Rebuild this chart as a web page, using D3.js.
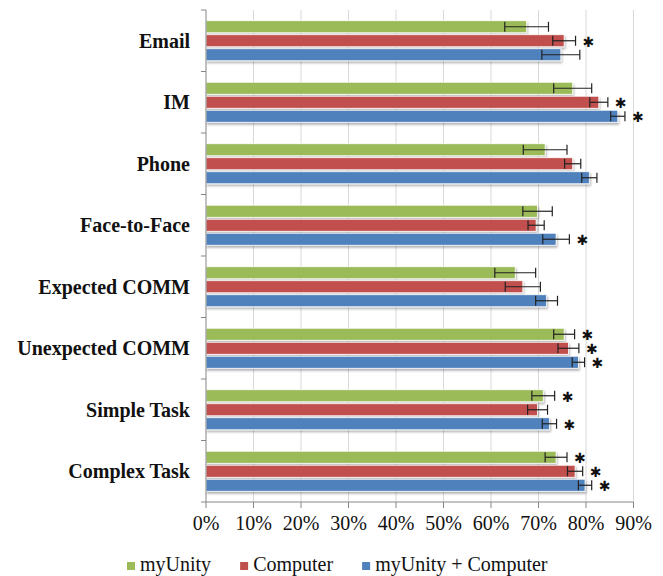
<!DOCTYPE html>
<html>
<head>
<meta charset="utf-8">
<script src="https://cdn.jsdelivr.net/npm/d3@7"></script>
<style>
  html, body { margin: 0; padding: 0; background: #fff; }
  svg { display: block; }
</style>
</head>
<body>
<div id="chart"></div>
<script>
// ---- data ----
const categories = ["Email", "IM", "Phone", "Face-to-Face", "Expected COMM", "Unexpected COMM", "Simple Task", "Complex Task"];
const seriesNames = ["myUnity", "Computer", "myUnity + Computer"];
const myUnity      = [67.5, 77.2, 71.4, 69.8, 65.1, 75.4, 71.0, 73.7];
const myUnityErr   = [4.6, 4.0, 4.6, 3.1, 4.3, 2.2, 2.4, 2.3];
const computer     = [75.4, 82.7, 77.2, 69.5, 66.7, 76.3, 69.8, 77.7];
const computerErr  = [2.4, 1.9, 1.7, 1.7, 3.7, 2.2, 2.1, 1.6];
const combined     = [74.7, 86.7, 80.7, 73.7, 71.7, 78.4, 72.3, 79.8];
const combinedErr  = [4.0, 1.5, 1.6, 2.8, 2.3, 1.3, 1.5, 1.4];
const myUnitySig   = [false, false, false, false, false, true, true, true];
const computerSig  = [true, true, false, false, false, true, false, true];
const combinedSig  = [false, true, false, true, false, true, true, true];
const xTicks = [0, 10, 20, 30, 40, 50, 60, 70, 80, 90];
const colors = ["#9bbb59", "#c0504d", "#4f81bd"];

const seriesValues = [myUnity, computer, combined];
const seriesErrs = [myUnityErr, computerErr, combinedErr];
const seriesSig = [myUnitySig, computerSig, combinedSig];

const rows = [];
categories.forEach((c, i) => {
  seriesNames.forEach((s, j) => {
    rows.push({ cat: c, series: s, si: j, value: seriesValues[j][i], err: seriesErrs[j][i], sig: seriesSig[j][i] });
  });
});

// ---- layout ----
const W = 663, H = 576;
const mLeft = 206, mRight = 633.5, mTop = 10, mBottom = 502;

const svg = d3.select("#chart").append("svg").attr("width", W).attr("height", H);

const defs = svg.append("defs");
const f = defs.append("filter").attr("id", "shadow").attr("x", "-5%").attr("y", "-30%").attr("width", "110%").attr("height", "180%");
f.append("feDropShadow").attr("dx", 1).attr("dy", 2).attr("stdDeviation", 1).attr("flood-color", "#000").attr("flood-opacity", 0.3);

const x = d3.scaleLinear().domain([0, 90]).range([mLeft, mRight]);
const y0 = d3.scaleBand().domain(categories).range([mTop, mBottom]).paddingInner(0.317).paddingOuter(0.1585);
const y1 = d3.scaleBand().domain(seriesNames).range([0, y0.bandwidth()]).paddingInner(0.14).paddingOuter(0.07);
const color = d3.scaleOrdinal().domain(seriesNames).range(colors);

// gridlines
svg.append("g").selectAll("line").data(xTicks.slice(1)).join("line")
  .attr("x1", d => x(d)).attr("x2", d => x(d))
  .attr("y1", mTop).attr("y2", mBottom)
  .attr("stroke", "#d9d9d9").attr("stroke-width", 1);

// bars
const gCat = svg.append("g").selectAll("g").data(categories).join("g")
  .attr("transform", d => `translate(0,${y0(d)})`);

gCat.selectAll("rect").data(c => rows.filter(r => r.cat === c)).join("rect")
  .attr("x", x(0))
  .attr("y", d => y1(d.series))
  .attr("width", d => x(d.value) - x(0))
  .attr("height", y1.bandwidth())
  .attr("fill", d => color(d.series))
  .attr("stroke", "#ffffff").attr("stroke-width", 0.8)
  .attr("filter", "url(#shadow)");

// error bars
const capH = 10;
const eb = gCat.selectAll("g.err").data(c => rows.filter(r => r.cat === c)).join("g").attr("class", "err");
eb.append("line")
  .attr("x1", d => x(d.value - d.err)).attr("x2", d => x(d.value + d.err))
  .attr("y1", d => y1(d.series) + y1.bandwidth() / 2).attr("y2", d => y1(d.series) + y1.bandwidth() / 2)
  .attr("stroke", "#222").attr("stroke-width", 1.2);
eb.append("line")
  .attr("x1", d => x(d.value - d.err)).attr("x2", d => x(d.value - d.err))
  .attr("y1", d => y1(d.series) + y1.bandwidth() / 2 - capH / 2).attr("y2", d => y1(d.series) + y1.bandwidth() / 2 + capH / 2)
  .attr("stroke", "#222").attr("stroke-width", 1.2);
eb.append("line")
  .attr("x1", d => x(d.value + d.err)).attr("x2", d => x(d.value + d.err))
  .attr("y1", d => y1(d.series) + y1.bandwidth() / 2 - capH / 2).attr("y2", d => y1(d.series) + y1.bandwidth() / 2 + capH / 2)
  .attr("stroke", "#222").attr("stroke-width", 1.2);

// significance stars
const stars = gCat.selectAll("text.star").data(c => rows.filter(r => r.cat === c && r.sig)).join("text")
  .attr("class", "star")
  .attr("x", d => x(d.value + d.err) + 7)
  .attr("y", d => y1(d.series) + y1.bandwidth() / 2)
  .attr("font-family", "'DejaVu Sans', sans-serif")
  .attr("font-weight", "bold")
  .attr("font-size", 14)
  .attr("fill", "#111")
  .text("\u2731");
stars.each(function(d) {
  const bb = this.getBBox();
  const cy = y1(d.series) + y1.bandwidth() / 2;
  const cur = +d3.select(this).attr("y");
  d3.select(this).attr("y", cur + (cy - (bb.y + bb.height / 2)) + 1);
});

// left axis
const yAxis = svg.append("g");
yAxis.append("line").attr("x1", mLeft).attr("x2", mLeft).attr("y1", mTop).attr("y2", mBottom).attr("stroke", "#868686");
const bounds = categories.map(c => y0(c) - y0.step() * y0.paddingInner() / 2).concat([mBottom]);
yAxis.selectAll("line.tk").data(bounds).join("line").attr("class", "tk")
  .attr("x1", mLeft - 5).attr("x2", mLeft).attr("y1", d => d).attr("y2", d => d).attr("stroke", "#868686");
yAxis.selectAll("text").data(categories).join("text")
  .attr("x", 190)
  .attr("y", d => y0(d) + y0.bandwidth() / 2)
  .attr("dy", "0.35em")
  .attr("text-anchor", "end")
  .attr("font-family", "'Liberation Serif', 'Times New Roman', serif")
  .attr("font-weight", "bold")
  .attr("font-size", 20)
  .attr("fill", "#111")
  .text(d => d);

// bottom axis
const xAxis = svg.append("g");
xAxis.append("line").attr("x1", mLeft).attr("x2", mRight).attr("y1", mBottom).attr("y2", mBottom).attr("stroke", "#868686");
xAxis.selectAll("line.tk").data(xTicks).join("line").attr("class", "tk")
  .attr("x1", d => x(d)).attr("x2", d => x(d)).attr("y1", mBottom).attr("y2", mBottom + 6).attr("stroke", "#868686");
xAxis.selectAll("text").data(xTicks).join("text")
  .attr("x", d => x(d))
  .attr("y", 530)
  .attr("text-anchor", "middle")
  .attr("font-family", "'Liberation Serif', 'Times New Roman', serif")
  .attr("font-size", 20)
  .attr("fill", "#111")
  .text(d => d + "%");

// legend
const legend = svg.append("g");
let lx = 127;
seriesNames.forEach((s, i) => {
  legend.append("rect").attr("x", lx).attr("y", 562).attr("width", 8).attr("height", 8).attr("fill", color(s));
  const t = legend.append("text").attr("x", lx + 13).attr("y", 571)
    .attr("font-family", "'Liberation Serif', 'Times New Roman', serif")
    .attr("font-size", 20).attr("fill", "#111").text(s);
  lx += 13 + t.node().getComputedTextLength() + 29;
});
</script>
</body>
</html>
